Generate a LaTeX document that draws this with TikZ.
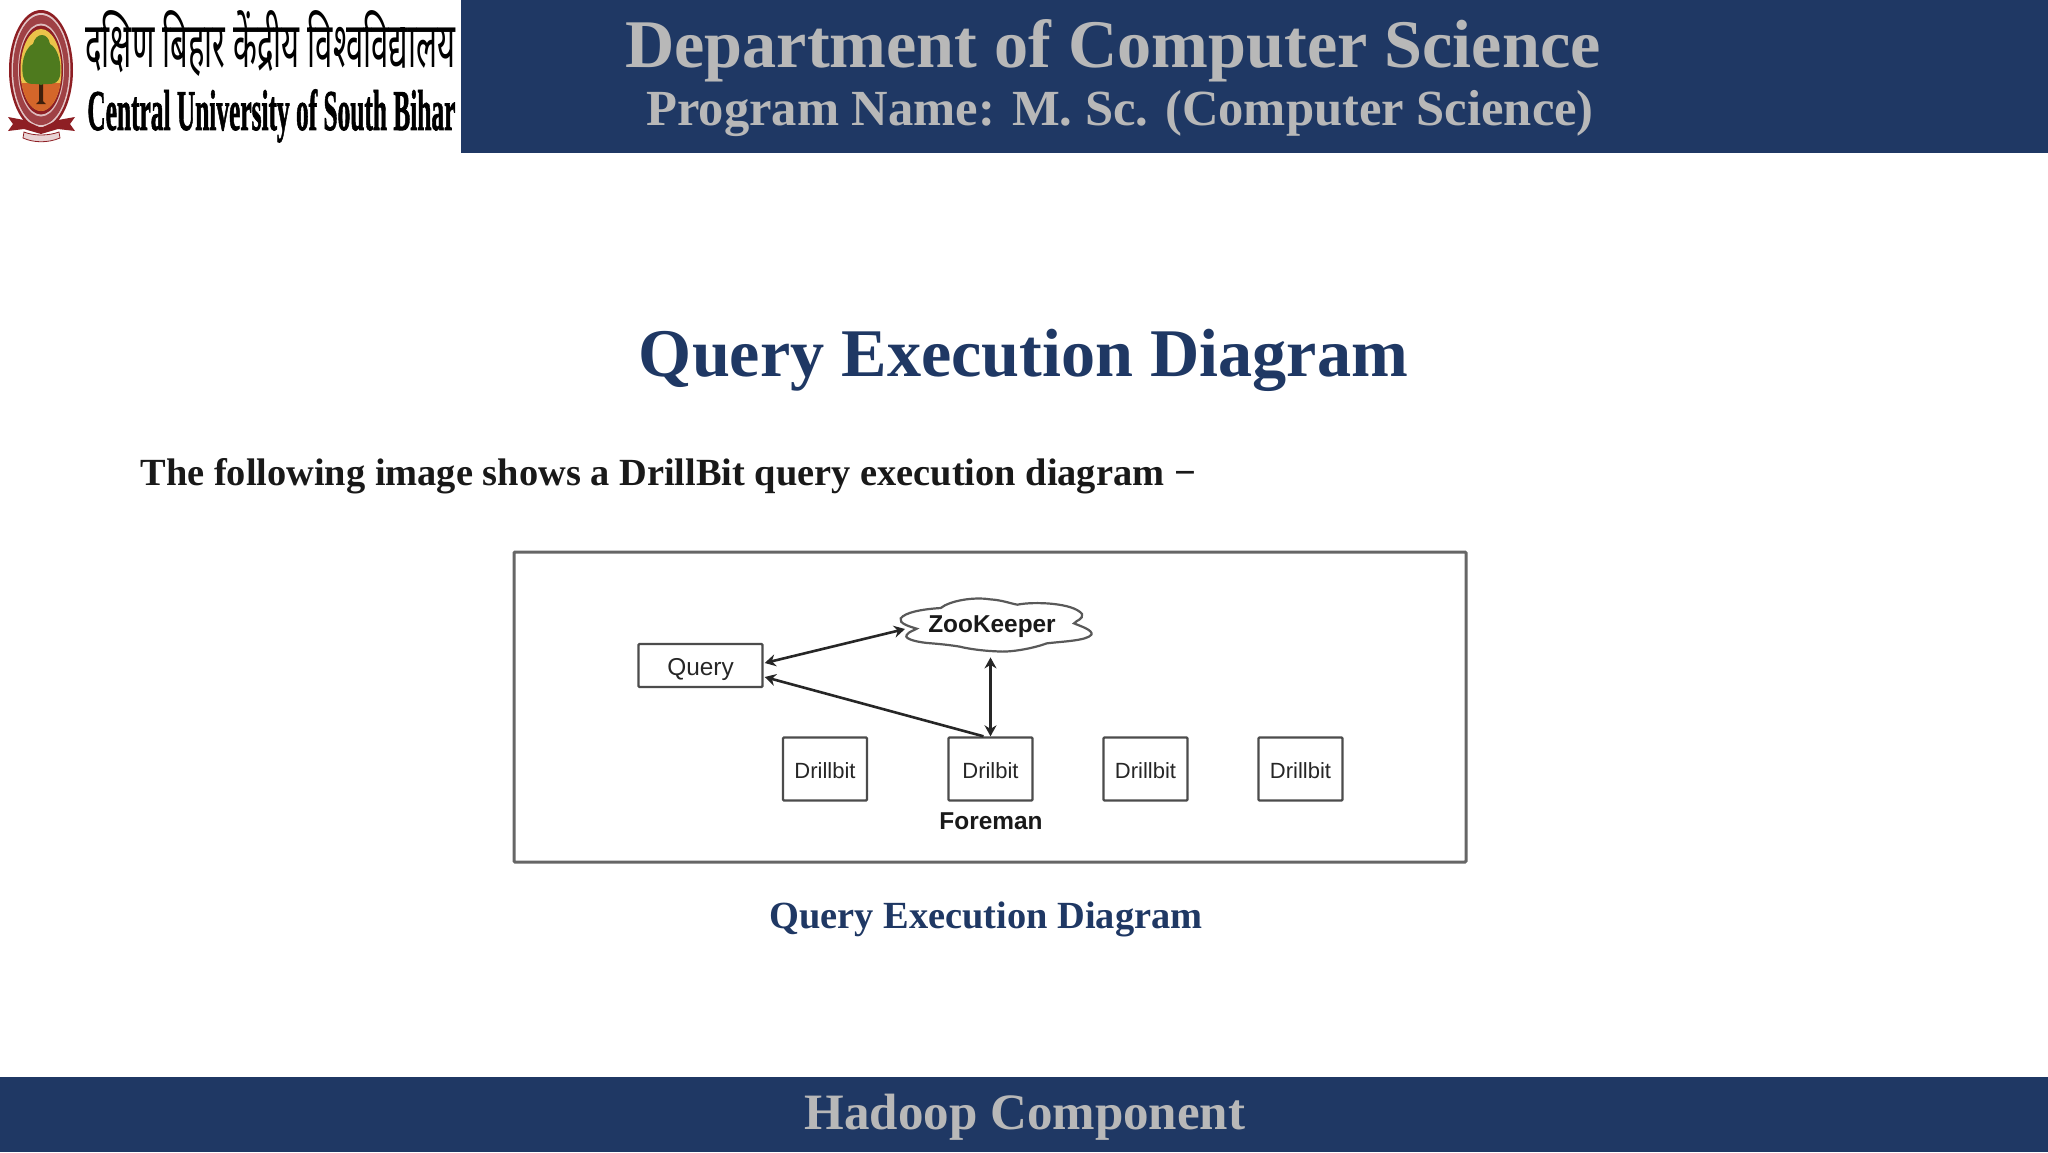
\documentclass[tikz,border=0pt]{standalone}
\usepackage{graphicx}
\usepackage{fontspec}
\setmainfont{Liberation Serif}
\setsansfont{Liberation Sans}
\newfontfamily\hindifont[Script=Devanagari]{Noto Sans}
\newfontfamily\heavyfont[BoldFeatures={FakeBold=1.6}]{Liberation Serif}
\usetikzlibrary{arrows.meta}
\definecolor{navy}{HTML}{1F3864}
\definecolor{headgray}{HTML}{B8B8B8}
\definecolor{framegray}{HTML}{666666}
\definecolor{seal}{HTML}{8E1F24}
\definecolor{sealgold}{HTML}{EBC34A}
\definecolor{sealgreen}{HTML}{4E7A1E}
\definecolor{sealorange}{HTML}{D4662A}
\tikzset{
  band/.style={fill=navy,draw=none},
  headtext/.style={text=headgray,inner sep=0pt},
  box/.style={draw=black!70,line width=1.2pt,rounded corners=0.5pt,inner sep=0pt,font=\sffamily\fontsize{11}{13}\selectfont,text=black!85},
  link/.style={draw=black!85,line width=1.3pt,{Stealth[length=5.5pt,width=6pt]}-{Stealth[length=5.5pt,width=6pt]}},
  linkone/.style={draw=black!85,line width=1.3pt,-{Stealth[length=5.5pt,width=6pt]}},
  bold label/.style={inner sep=0pt,font=\sffamily\bfseries\fontsize{12.2}{14}\selectfont,text=black!90}
}
\begin{document}
\begin{tikzpicture}[x=0.5pt,y=-0.5pt]
\useasboundingbox (0,0) rectangle (2048,1152);
\fill[white] (0,0) rectangle (2048,1152);
% bands
\fill[band] (461,0) rectangle (2048,153);
\fill[band] (0,1077) rectangle (2048,1152);
% seal
\fill[seal] (41,70) ellipse [x radius=32,y radius=60];
\fill[white!75!seal] (41,70) ellipse [x radius=29.5,y radius=57];
\fill[seal!85!white] (41,70) ellipse [x radius=28,y radius=55];
\fill[white!70!seal] (41,70) ellipse [x radius=23,y radius=46.5];
\fill[seal] (41,70) ellipse [x radius=22,y radius=44.5];
\fill[sealgold] (41,70) ellipse [x radius=20.5,y radius=41];
\begin{scope}
\clip (41,70) ellipse [x radius=20.5,y radius=41];
\fill[sealorange] (15,83) rectangle (67,112);
\end{scope}
\fill[black!70!sealorange] (39,78) -- (43,78) -- (43,101) -- (46,104) -- (36,104) -- (39,101) -- cycle;
\fill[sealgreen] (23,76) .. controls (20,58) and (28,46) .. (33,44) .. controls (36,32) and (48,32) .. (50,44) .. controls (58,48) and (62,64) .. (60,76) .. controls (57,88) and (46,82) .. (41,85) .. controls (36,82) and (26,88) .. (23,76) -- cycle;
\fill[seal] (8,117) -- (24,120) -- (41,128) -- (58,120) -- (75,117) -- (70,124) -- (75,131) -- (58,129) -- (41,134) -- (24,129) -- (8,131) -- (13,124) -- cycle;
\fill[white!80!seal,draw=seal,line width=0.4pt] (24,132) .. controls (34,136) and (48,136) .. (59,132) -- (60,138) .. controls (48,143) and (34,143) .. (23,138) -- cycle;
% logo lettering
\node[anchor=north west,inner sep=0pt] (hindi) at (85,10) {\resizebox*{185pt}{33pt}{\hindifont दक्षिण बिहार केंद्रीय विश्वविद्यालय}};
\node[anchor=north west,inner sep=0pt] (english) at (87,89) {\resizebox*{184pt}{26.5pt}{\heavyfont\bfseries Central University of South Bihar}};
% header
\node[headtext,font=\bfseries\fontsize{34.1}{38}\selectfont] (dept) at (1113,51) {Department of Computer Science};
\node[headtext,font=\bfseries\fontsize{25.3}{30}\selectfont] (prog) at (1120,114) {Program Name: M. Sc. (Computer Science)};
% title and body
\node[inner sep=0pt,text=navy,font=\bfseries\fontsize{34.1}{38}\selectfont] (title) at (1023.5,360) {Query Execution Diagram};
\node[anchor=west,inner sep=0pt,text=black!90,font=\bfseries\fontsize{19.2}{23}\selectfont] (intro) at (140,476) {The following image shows a DrillBit query execution diagram −};
% frame
\draw[framegray,line width=1.5pt,rounded corners=0.5pt] (514,552) rectangle (1466,862);
% cloud
\begin{scope}[shift={(860,580)},x=0.1667pt,y=-0.1667pt]
\draw[fill=white,draw=black!65,line width=1.1pt] (122,115)
 .. controls (135,98) and (180,88) .. (242,84)
 .. controls (270,62) and (340,50) .. (390,58)
 .. controls (425,60) and (450,70) .. (472,74)
 .. controls (520,64) and (640,68) .. (666,102)
 .. controls (670,118) and (650,120) .. (642,130)
 .. controls (660,138) and (700,150) .. (694,164)
 .. controls (680,182) and (610,184) .. (560,190)
 .. controls (520,205) and (450,218) .. (410,214)
 .. controls (360,212) and (320,205) .. (300,200)
 .. controls (270,195) and (240,192) .. (215,190)
 .. controls (180,188) and (130,178) .. (140,165)
 .. controls (145,155) and (165,150) .. (170,146)
 .. controls (150,140) and (115,130) .. (122,115) -- cycle;
\end{scope}
% nodes
\node[box,minimum width=62pt,minimum height=21.5pt,font=\sffamily\fontsize{12.2}{14}\selectfont] (query) at (700.5,665.5) {\raisebox{-4.75pt}[0pt][0pt]{Query}};
\node[bold label,minimum width=96pt,minimum height=27pt] (zk) at (992,627) {ZooKeeper};
\node[box,minimum width=42pt,minimum height=31.5pt] (d1) at (825,769) {\raisebox{-4.5pt}[0pt][0pt]{Drillbit}};
\node[box,minimum width=42pt,minimum height=31.5pt] (d2) at (990.5,769) {\raisebox{-4.5pt}[0pt][0pt]{Drilbit}};
\node[box,minimum width=42pt,minimum height=31.5pt] (d3) at (1145.5,769) {\raisebox{-4.5pt}[0pt][0pt]{Drillbit}};
\node[box,minimum width=42pt,minimum height=31.5pt] (d4) at (1300.5,769) {\raisebox{-4.5pt}[0pt][0pt]{Drillbit}};
\node[bold label] (foreman) at (991,821) {Foreman};
% connectors
\draw[link] ([shift={(0.5pt,1.25pt)}]query.east) -- ([shift={(-43.5pt,-1pt)}]zk.center);
\draw[link] (d2.north) -- ([yshift=-1.5pt]zk.south -| d2.north);
\draw[linkone] ([xshift=-3.5pt]d2.north) -- ([shift={(0.5pt,-5.75pt)}]query.east);
% caption
\node[inner sep=0pt,text=navy,font=\bfseries\fontsize{19.2}{23}\selectfont] (cap) at (986,919) {Query Execution Diagram};
% footer
\node[headtext,font=\bfseries\fontsize{25.5}{30}\selectfont] (foot) at (1025,1117) {Hadoop Component};
\end{tikzpicture}
\end{document}
